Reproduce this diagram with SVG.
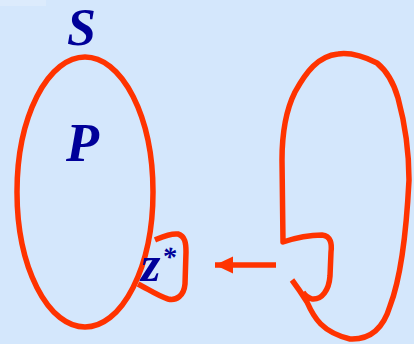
<svg xmlns="http://www.w3.org/2000/svg" width="414" height="344" viewBox="0 0 414 344">
<style>
.c{fill:none;stroke:#FF3300;stroke-width:5.5;stroke-linecap:butt;stroke-linejoin:round}
.t{font-family:"Liberation Serif",serif;font-weight:bold;font-style:italic;fill:#000099}
</style>
<defs>
<marker id="ah" markerWidth="18" markerHeight="18" refX="18" refY="9" orient="auto" markerUnits="userSpaceOnUse">
<path d="M0,0.5 L18,9 L0,17.5 Z" fill="#FF3300"/>
</marker>
</defs>
<rect width="414" height="344" fill="#D4E7FC"/>
<rect width="46" height="6" fill="#DCEBFC"/>
<g id="S-set">
<ellipse class="c" cx="85" cy="192" rx="68" ry="135"/>
<text class="t" x="67" y="45" font-size="52">S</text>
</g>
<g id="P-label">
<text class="t" x="66" y="161" font-size="54">P</text>
</g>
<g id="z-star">
<path class="c" d="M155,240 C162,237 170,233 178,234 C185,236 186,243 186,252 L185,284 C184,296 176,301 168,299 C158,296 148,289 138,284"/>
<text class="t" x="141" y="281" font-size="50" font-style="normal">z</text>
<text class="t" x="162" y="266" font-size="28" font-style="normal">*</text>
</g>
<g id="region">
<path class="c" d="M292,280 C298,288 302,294 307,302 C314,318 322,332 350,339 C372,340 384,326 390,306 C400,280 406,240 409,180 C409,150 404,120 398,98 C394,84 388,72 377,63 C365,57 352,52 338,54 C318,56 306,72 295,92 C285,112 282,135 282,160 L283,242 C295,238 310,235 322,235 C331,236 332,244 331,252 L330,276 C329,290 322,300 312,299 C306,297 304,294 303,292"/>
</g>
<g id="connectors">
<line x1="276" y1="265" x2="215" y2="265" stroke="#FF3300" stroke-width="5.5" marker-end="url(#ah)"/>
</g>
</svg>
